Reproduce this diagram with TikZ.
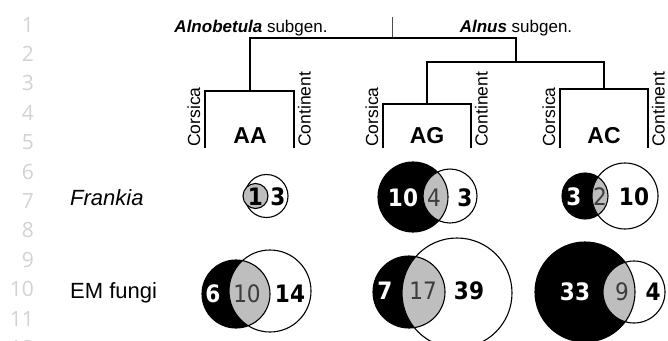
\documentclass[tikz,border=0pt]{standalone}
\usepackage{fontspec}
\setmainfont{Liberation Sans}
\newfontfamily\numfont{DejaVu Sans Condensed}
\newfontfamily\lnfont{Open Sans}
\definecolor{lensgray}{HTML}{BEBEBE}
\definecolor{lngray}{HTML}{D2D2D2}
\definecolor{numgray}{HTML}{3C3C3C}
\newcommand{\myvenn}[6]{%
  \fill[black] (#1,#2) circle (#3pt);
  \fill[white] (#4,#5) circle (#6pt);
  \begin{scope}\clip (#1,#2) circle (#3pt); \fill[lensgray] (#4,#5) circle (#6pt);\end{scope}
  \draw[vennline] (#1,#2) circle (#3pt) (#4,#5) circle (#6pt);}
\begin{document}
\begin{tikzpicture}[x=1pt,y=-1pt,
  tree/.style={line width=2pt, line join=miter, line cap=rect},
  vennline/.style={line width=1.1pt},
  lnum/.style={anchor=base east, inner sep=0pt, text=lngray, font=\lnfont\fontsize{21}{21}\selectfont},
  clade/.style={anchor=base, inner sep=0pt, font=\fontsize{23}{23}\selectfont\bfseries},
  geo/.style={anchor=base west, inner sep=0pt, rotate=90, font=\fontsize{17.5}{17.5}\selectfont},
  head/.style={anchor=base, inner sep=0pt, font=\fontsize{17}{17}\selectfont},
  rowlab/.style={anchor=base west, inner sep=0pt, font=\fontsize{22}{22}\selectfont},
  nb/.style={inner sep=0pt, font=\numfont\fontsize{24}{24}\selectfont\bfseries, text=black},
  nw/.style={inner sep=0pt, font=\numfont\fontsize{24}{24}\selectfont\bfseries, text=white},
  ng/.style={inner sep=0pt, font=\numfont\fontsize{24}{24}\selectfont, text=numgray}]
\useasboundingbox (0,0) rectangle (668,340);
% line numbers
\begin{scope}
\clip (0,0) rectangle (668,340);
\foreach \i in {1,...,12}
  \node[lnum] (ln\i) at (34,{32+(\i-1)*29.4}) {\i};
\end{scope}
% tree
\coordinate (top) at (392,17);
\coordinate (rootL) at (250,38);
\coordinate (rootR) at (516,38);
\draw[line width=0.8pt, black!70] (top) -- (392,38);
\draw[tree] (250,91) -- (rootL) -- (rootR) -- (516,62);
\draw[tree] (205,147) -- (205,91) -- (294,91) -- (294,147);
\draw[tree] (427,104) -- (427,62) -- (604,62) -- (604,89);
\draw[tree] (383,147) -- (383,104) -- (471,104) -- (471,147);
\draw[tree] (560,147) -- (560,89) -- (648,89) -- (648,147);
\node[head] (alnob) at (251,32) {\textbf{\textit{Alnobetula}} subgen.};
\node[head] (alnus) at (516,32) {\textbf{\textit{Alnus}} subgen.};
\node[clade] (AA) at (250,143) {AA};
\node[clade] (AG) at (427,143) {AG};
\node[clade] (AC) at (604,143) {AC};
\node[geo] (coAA) at (200,147) {Corsica};
\node[geo] (ctAA) at (310.5,147) {Continent};
\node[geo] (coAG) at (378,147) {Corsica};
\node[geo] (ctAG) at (487.5,147) {Continent};
\node[geo] (coAC) at (555,147) {Corsica};
\node[geo] (ctAC) at (664.5,147) {Continent};
% row labels
\node[rowlab] (frankia) at (70,205) {\itshape Frankia};
\node[rowlab] (emf) at (70,298) {EM fungi};
% Frankia AA
\draw[vennline, fill=white] (266.5,196) circle (21.5pt);
\draw[vennline, fill=lensgray] (255.5,196) circle (12.5pt);
\node[nb] (fAA1) at (255.5,197) {1};
\node[nb] (fAA2) at (278,197) {3};
% Frankia AG
\myvenn{413}{197}{35}{450}{196}{27}
\node[nw] (fAG1) at (403,198) {10};
\node[ng] (fAG2) at (434,198) {4};
\node[nb] (fAG3) at (465,198) {3};
% Frankia AC
\myvenn{585}{196}{23}{625}{196}{33}
\node[nw] (fAC1) at (574,197) {3};
\node[ng] (fAC2) at (600,197) {2};
\node[nb] (fAC3) at (634,197) {10};
% EM AA
\myvenn{236}{294}{34}{270}{291}{41}
\node[nw] (eAA1) at (213,294) {6};
\node[ng] (eAA2) at (247,294) {10};
\node[nb] (eAA3) at (290,294) {14};
% EM AG
\myvenn{409}{292}{36}{457}{293}{55}
\node[nw] (eAG1) at (385,291) {7};
\node[ng] (eAG2) at (423,291) {17};
\node[nb] (eAG3) at (469,291) {39};
% EM AC
\myvenn{585}{292}{50}{634}{292}{31}
\node[nw] (eAC1) at (575,292) {33};
\node[ng] (eAC2) at (622,292) {9};
\node[nb] (eAC3) at (653,292) {4};
\end{tikzpicture}
\end{document}
